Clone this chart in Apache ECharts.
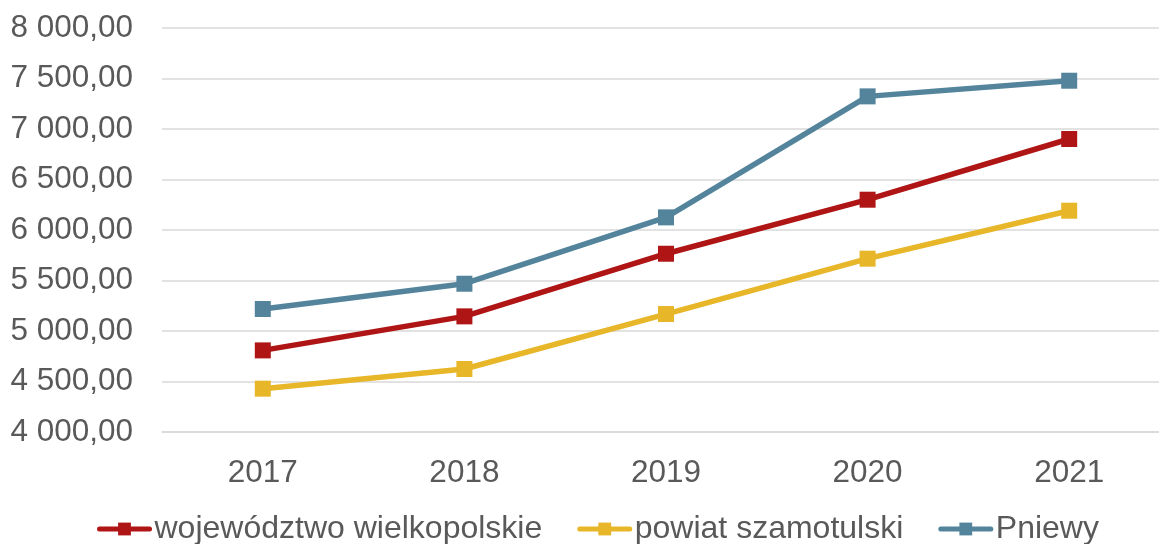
<!DOCTYPE html>
<html>
<head>
<meta charset="utf-8">
<script src="https://cdn.jsdelivr.net/npm/echarts@6/dist/echarts.min.js"></script>
<style>
html, body { margin: 0; padding: 0; background: #fff; }
#main { width: 1159px; height: 544px; }
</style>
</head>
<body>
<div id="main"></div>
<script>
// wynagrodzenia 2017-2021

var lata = ['2017', '2018', '2019', '2020', '2021'];
var wojewodztwo = [4808, 5145, 5765, 6300, 6901];
var powiat = [4429, 4624, 5168, 5716, 6191];
var pniewy = [5218, 5468, 6125, 7323, 7478];

var kolory = ['#AF1515', '#E8B629', '#53849C'];

function formatPL(v) {
    var s = v.toFixed(2).split('.');
    return s[0].replace(/\B(?=(\d{3})+(?!\d))/g, ' ') + ',' + s[1];
}

var myChart = echarts.init(document.getElementById('main'));

function seria(name, data, color) {
    return {
        name: name,
        type: 'line',
        data: data,
        symbol: 'rect',
        symbolSize: 16,
        showSymbol: true,
        lineStyle: { width: 5.5, color: color },
        itemStyle: { color: color },
        emphasis: { disabled: true }
    };
}

var option = {
    animation: false,
    textStyle: { fontFamily: 'Liberation Sans, Arial, sans-serif' },
    grid: { left: 162, top: 28, width: 1008, height: 404, containLabel: false, outerBoundsMode: 'none' },
    legend: {
        bottom: -6,
        left: 92,
        itemWidth: 50,
        itemHeight: 16,
        itemGap: 35,
        lineStyle: { width: 5, cap: 'round' },
        textStyle: { fontSize: 32, color: '#595959' },
        data: ['województwo wielkopolskie', 'powiat szamotulski', 'Pniewy']
    },
    xAxis: {
        type: 'category',
        data: lata,
        axisLine: { lineStyle: { color: '#D9D9D9', width: 1.5 } },
        axisTick: { show: false },
        axisLabel: { fontSize: 31.5, color: '#595959', margin: 25 }
    },
    yAxis: {
        type: 'value',
        min: 4000,
        max: 8000,
        interval: 500,
        axisLine: { show: false },
        axisTick: { show: false },
        splitLine: { lineStyle: { color: '#D9D9D9', width: 1.5 } },
        axisLabel: { fontSize: 31.5, color: '#595959', margin: 29, formatter: formatPL }
    },
    series: [
        seria('województwo wielkopolskie', wojewodztwo, kolory[0]),
        seria('powiat szamotulski', powiat, kolory[1]),
        seria('Pniewy', pniewy, kolory[2])
    ]
};

myChart.setOption(option);
</script>
</body>
</html>
